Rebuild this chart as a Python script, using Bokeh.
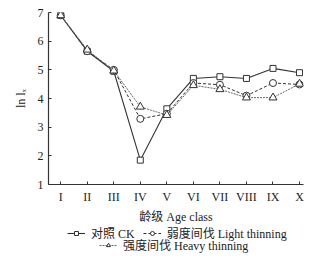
from bokeh.plotting import figure
from bokeh.models import Legend, LegendItem, Range1d, FixedTicker
from bokeh.layouts import column
from bokeh.embed import file_html
from bokeh.resources import INLINE

ages = ["I", "II", "III", "IV", "V", "VI", "VII", "VIII", "IX", "X"]
ck = [6.90, 5.65, 4.95, 1.85, 3.64, 4.70, 4.76, 4.70, 5.05, 4.90]
light = [6.90, 5.65, 5.00, 3.29, 3.47, 4.54, 4.48, 4.10, 4.54, 4.49]
heavy = [6.90, 5.70, 4.97, 3.71, 3.42, 4.46, 4.32, 4.03, 4.03, 4.51]

xs = list(range(1, len(ages) + 1))

SERIF = "Liberation Serif, Noto Sans CJK SC"
INK = "#333333"

p = figure(width=326, height=226, output_backend="svg", toolbar_location=None,
           x_range=Range1d(0.54, 10.15), y_range=Range1d(1, 7),
           min_border_left=48, min_border_right=23, min_border_top=12,
           min_border_bottom=34)
p.outline_line_color = None
p.grid.visible = False
p.background_fill_color = "white"

# series
p.line(xs, ck, line_color=INK, line_width=1.1)
p.scatter(xs, ck, marker="square", size=6, fill_color="white", line_color=INK, line_width=1)
p.line(xs, light, line_color=INK, line_width=1, line_dash="3 2")
p.scatter(xs, light, marker="circle", size=7, fill_color="white", line_color=INK, line_width=1)
p.line(xs, heavy, line_color="#666666", line_width=1, line_dash="2 1")
p.scatter(xs, heavy, marker="triangle", size=8, fill_color="white", line_color=INK, line_width=1)

# axes
p.xaxis.ticker = FixedTicker(ticks=xs)
p.xaxis.major_label_overrides = {x: a for x, a in zip(xs, ages)}
p.yaxis.ticker = FixedTicker(ticks=[1, 2, 3, 4, 5, 6, 7])
for ax in (p.xaxis[0], p.yaxis[0]):
    ax.axis_line_color = INK
    ax.axis_line_width = 1.2
    ax.major_tick_line_color = INK
    ax.major_tick_in = 3
    ax.major_tick_out = 0
    ax.minor_tick_line_color = None
    ax.major_label_text_font = SERIF
    ax.major_label_text_font_size = "12px"
    ax.major_label_text_color = "#222222"
    ax.axis_label_text_font = SERIF
    ax.axis_label_text_font_size = "12px"
    ax.axis_label_text_font_style = "normal"
    ax.axis_label_text_color = "#222222"

p.xaxis.major_label_standoff = 5
p.xaxis.axis_label = "龄级 Age class"
p.xaxis.axis_label_standoff = 3
p.yaxis.major_label_standoff = 5
p.yaxis.axis_label = "ln lₓ"
p.yaxis.axis_label_standoff = 7

# legend strip (separate figure below the chart)
lg = figure(width=326, height=35, output_backend="svg", toolbar_location=None,
            x_range=Range1d(100, 101), y_range=Range1d(100, 101),
            x_axis_type=None, y_axis_type=None,
            min_border_left=0, min_border_right=0, min_border_top=0, min_border_bottom=0)
lg.outline_line_color = None
lg.grid.visible = False

# proxies (outside the visible range) that only provide legend samples
r1l = lg.line(xs, ck, line_color=INK, line_width=1.1)
r1m = lg.scatter(xs, ck, marker="square", size=4, fill_color="white", line_color=INK)
r2l = lg.line(xs, light, line_color=INK, line_width=1, line_dash="3 2")
r2m = lg.scatter(xs, light, marker="circle", size=5, fill_color="white", line_color=INK)
r3l = lg.line(xs, heavy, line_color="#666666", line_width=1, line_dash="2 1")
r3m = lg.scatter(xs, heavy, marker="triangle", size=5, fill_color="white", line_color=INK)

common = dict(orientation="horizontal", border_line_alpha=0,
              background_fill_alpha=0, padding=0, margin=0, spacing=8,
              glyph_width=18, glyph_height=10, label_text_font=SERIF,
              label_text_font_size="12px", label_standoff=6, label_height=12,
              label_text_color="#222222")

leg1 = Legend(items=[LegendItem(label="对照 CK", renderers=[r1l, r1m]),
                     LegendItem(label="弱度间伐 Light thinning", renderers=[r2l, r2m])],
              location=(19, 19), **common)
leg2 = Legend(items=[LegendItem(label="强度间伐 Heavy thinning", renderers=[r3l, r3m])],
              location=(51, 7), **common)
lg.add_layout(leg1)
lg.add_layout(leg2)

layout = column(p, lg, spacing=0)
open("out.html", "w").write(file_html(layout, INLINE))
